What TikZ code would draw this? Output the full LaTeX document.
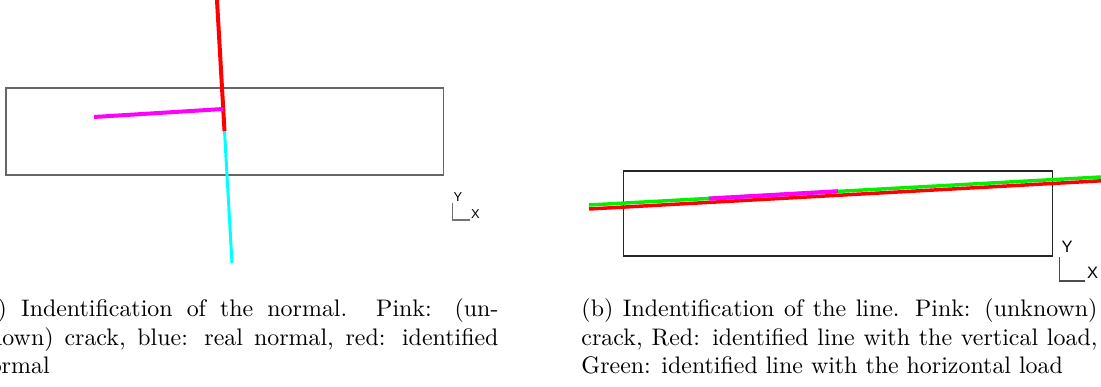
\documentclass[tikz,border=0pt]{standalone}
\usepackage{fontspec}
\newfontfamily\axisfont{Liberation Sans}
\definecolor{crackpink}{RGB}{255,0,255}
\definecolor{normalblue}{RGB}{0,255,255}
\definecolor{idred}{RGB}{255,0,0}
\definecolor{idgreen}{RGB}{0,240,0}
\tikzset{
  specimen/.style={draw=#1, line width=0.42pt},
  thickline/.style={line width=#1, line cap=butt},
  axisline/.style={draw=#1, line width=0.42pt},
  axislabel/.style={inner sep=0pt, font=\axisfont\fontsize{#1}{#1}\selectfont},
  captiontext/.style={inner sep=0pt, anchor=base west, text width=#1, align=justify,
     font=\fontsize{10pt}{12pt}\selectfont}
}
\begin{document}
\begin{tikzpicture}[x=0.418pt,y=-0.418pt]
\useasboundingbox (0,0) rectangle (1101,387);
\clip (0,0) rectangle (1101,387);
% ---------- left panel ----------
\coordinate (La) at (6,88);
\coordinate (Lb) at (443,175);
\draw[specimen=black!60] (La) rectangle (Lb);
\coordinate (rt) at (216.7,-5);
\coordinate (rb) at (224.5,131);
\coordinate (cb) at (232,263);
\coordinate (m1) at (94,117);
\coordinate (m2) at (223,109);
\draw[thickline=1.25pt, normalblue] (rb) -- (cb);
\draw[thickline=1.67pt, idred] (rt) -- (rb);
\draw[thickline=1.67pt, crackpink] (m1) -- (m2);
\coordinate (ly) at (452,203);
\coordinate (lo) at (452,220);
\coordinate (lx) at (470,220);
\draw[axisline=black!55] (ly) -- (lo) -- (lx);
\node[axislabel=5.4pt] (LY) at (458,197) {Y};
\node[axislabel=5.4pt] (LX) at (475.5,214) {X};
\node[captiontext=218.2pt] (capa) at (-24,316.5) {(a) Indentification of the normal. Pink: (un-\linebreak known) crack, blue: real normal, red: identified\linebreak normal};
% ---------- right panel ----------
\coordinate (Ra) at (623,171);
\coordinate (Rb) at (1052,256);
\draw[specimen=black!85] (Ra) rectangle (Rb);
\coordinate (g1) at (589,205);
\coordinate (g2) at (1110,176.5);
\coordinate (r1) at (589,209);
\coordinate (r2) at (1110,180.3);
\coordinate (p1) at (709,198.6);
\coordinate (p2) at (838,191.3);
\draw[thickline=1.45pt, idgreen] (g1) -- (g2);
\draw[thickline=1.45pt, idred] (r1) -- (r2);
\draw[thickline=1.75pt, crackpink] (p1) -- (p2);
\coordinate (ry) at (1059,257);
\coordinate (ro) at (1059,281);
\coordinate (rx) at (1085,281);
\draw[axisline=black!70] (ry) -- (ro) -- (rx);
\node[axislabel=6.9pt] (RY) at (1067,247) {Y};
\node[axislabel=6.9pt] (RX) at (1092.5,273) {X};
\node[captiontext=215.7pt] (capb) at (581,316.5) {(b) Indentification of the line. Pink: (unknown)\linebreak crack, Red: identified line with the vertical load,\linebreak Green: identified line with the horizontal load};
\end{tikzpicture}
\end{document}
